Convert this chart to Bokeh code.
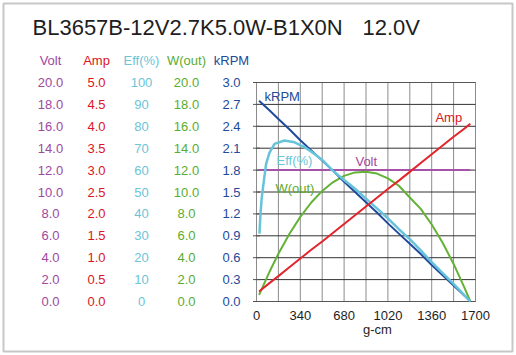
from bokeh.plotting import figure
from bokeh.models import Range1d, BoxAnnotation
from bokeh.core.properties import value
from bokeh.embed import file_html
from bokeh.resources import INLINE

# ---------------- data ----------------
title_model = "BL3657B-12V2.7K5.0W-B1X0N"
title_volt = "12.0V"
x_title = "g-cm"

torque = [20, 100, 170, 255, 340, 425, 510, 595, 680, 765, 850, 935, 1020,
          1105, 1190, 1275, 1360, 1445, 1530, 1615, 1660]
krpm = [2.75, 2.62, 2.50, 2.36, 2.21, 2.07, 1.93, 1.79, 1.64, 1.50, 1.36, 1.22, 1.07,
        0.93, 0.79, 0.65, 0.50, 0.36, 0.22, 0.08, 0.00]
amp = [0.23, 0.42, 0.58, 0.78, 0.98, 1.18, 1.37, 1.57, 1.77, 1.97, 2.17, 2.37, 2.57,
       2.76, 2.96, 3.16, 3.36, 3.56, 3.76, 3.95, 4.06]
wout = [0.6, 2.69, 4.36, 6.17, 7.73, 9.04, 10.10, 10.91, 11.47, 11.79, 11.85, 11.68, 11.24,
        10.57, 9.5, 8.46, 7.03, 5.36, 3.43, 1.24, 0.0]

volt_torque = [20, 1660]
volt = [12.0, 12.0]

eff_torque = [23, 31, 41, 57, 75, 101, 140, 217, 295, 373, 450, 515, 587, 680, 765,
              850, 935, 1020, 1105, 1190, 1275, 1360, 1445, 1530, 1615, 1660]
eff = [31, 40, 47.6, 55, 63, 68, 72, 73.5, 72.7, 70.5, 67.4, 64.4, 60, 55.5, 51.5,
       47, 42.5, 38, 33, 28.5, 23.3, 18, 13, 8, 2.8, 0]

x_ticks = [0, 340, 680, 1020, 1360, 1700]
x_grid = [0, 170, 340, 510, 680, 850, 1020, 1190, 1360, 1530, 1700]

volt_ticks = [0.0, 2.0, 4.0, 6.0, 8.0, 10.0, 12.0, 14.0, 16.0, 18.0, 20.0]
amp_ticks = [0.0, 0.5, 1.0, 1.5, 2.0, 2.5, 3.0, 3.5, 4.0, 4.5, 5.0]
eff_ticks = [0, 10, 20, 30, 40, 50, 60, 70, 80, 90, 100]
wout_ticks = [0.0, 2.0, 4.0, 6.0, 8.0, 10.0, 12.0, 14.0, 16.0, 18.0, 20.0]
krpm_ticks = [0.0, 0.3, 0.6, 0.9, 1.2, 1.5, 1.8, 2.1, 2.4, 2.7, 3.0]

headers = ["Volt", "Amp", "Eff(%)", "W(out)", "kRPM"]

# ---------------- layout / style ----------------
W, H = 516, 355
PL, PR, PT, PB = 256, 475, 82, 301        # plot box in page pixels
XMAX = 1700
FONT = value("Liberation Sans")

C_VOLT_T, C_VOLT = "#a0479f", "#a552a8"
C_AMP_T, C_AMP = "#d9161e", "#e2242b"
C_EFF_T, C_EFF = "#6cc4d7", "#67c3d9"
C_W_T, C_W = "#5aac2f", "#63b236"
C_K_T, C_K = "#234a99", "#1f4a9c"
C_TXT = "#1e1e1e"


def yrange(vmax):
    per = vmax / (PB - PT)
    return Range1d(-(H - PB) * per, vmax + PT * per)


xper = XMAX / (PR - PL)
p = figure(width=W, height=H,
           x_range=Range1d(-PL * xper, XMAX + (W - PR) * xper),
           y_range=yrange(20),
           output_backend="svg", toolbar_location=None,
           min_border=0, min_border_left=0, min_border_right=0,
           min_border_top=0, min_border_bottom=0,
           x_axis_location=None, y_axis_location=None)
p.extra_y_ranges = {"amp": yrange(5), "eff": yrange(100),
                    "wout": yrange(20), "krpm": yrange(3)}
p.outline_line_color = None
p.background_fill_color = "white"
p.border_fill_color = "white"
p.xgrid.visible = False
p.ygrid.visible = False

# plot grid (volt units on y)
p.segment(x0=x_grid, y0=0, x1=x_grid, y1=20, line_color="#8c8c8c", line_width=1)
p.segment(x0=0, y0=volt_ticks, x1=XMAX, y1=volt_ticks, line_color="#333333", line_width=1)
p.segment(x0=0, y0=[0, 20], x1=XMAX, y1=[0, 20], line_color="#555555", line_width=1)
# small outward tick marks on the left edge
p.scatter(x=[0] * len(volt_ticks), y=volt_ticks, marker="dash", size=7,
          line_color="#555555", line_width=1)

# ---------------- series ----------------
p.line(volt_torque, volt, line_color=C_VOLT, line_width=2)
p.line(torque, wout, line_color=C_W, line_width=2, y_range_name="wout")
p.line(torque, krpm, line_color=C_K, line_width=2, y_range_name="krpm")
p.line(eff_torque, eff, line_color=C_EFF, line_width=2.5, y_range_name="eff")
p.line(torque, amp, line_color=C_AMP, line_width=2, y_range_name="amp")


def txt(x, y, text, color, rn="default", size="13px", align="left",
        xo=0, yo=0):
    p.text(x=x, y=y, text=text, text_color=color, y_range_name=rn,
           text_font=FONT, text_font_size=size, text_align=align,
           text_baseline="middle", x_offset=xo, y_offset=yo)


# curve names inside plot
txt([62], [2.81], ["kRPM"], C_K_T, "krpm")
txt([155], [64.4], ["Eff(%)"], C_EFF_T, "eff")
txt([768], [12.8], ["Volt"], C_VOLT_T)
txt([147], [10.3], ["W(out)"], C_W_T, "wout")
txt([1389], [4.2], ["Amp"], C_AMP_T, "amp")

# ---------------- left value table ----------------
cols = [
    (50, volt_ticks, "{:.1f}", C_VOLT_T, "default"),
    (96, amp_ticks, "{:.1f}", C_AMP_T, "amp"),
    (141, eff_ticks, "{:d}", C_EFF_T, "eff"),
    (186, wout_ticks, "{:.1f}", C_W_T, "wout"),
    (231, krpm_ticks, "{:.1f}", C_K_T, "krpm"),
]
for (cx, ticks, fmt, color, rn), head in zip(cols, headers):
    txt([0] * len(ticks), ticks, [fmt.format(t) for t in ticks], color, rn,
        align="center", xo=cx - PL)
    txt([0], [20], [head], color, align="center", xo=cx - PL, yo=60 - PT)

# x tick labels and title
txt(x_ticks, [0] * len(x_ticks), [str(t) for t in x_ticks], C_TXT,
    align="center", yo=315 - PB)
txt([XMAX / 2], [0], [x_title], C_TXT, align="center",
    xo=377 - (PL + PR) / 2, yo=329 - PB)

# chart title
txt([0], [20], [title_model], C_TXT, size="22px", xo=32 - PL, yo=27 - PT)
txt([0], [20], [title_volt], C_TXT, size="22px", xo=362 - PL, yo=27 - PT)

# outer frame
p.add_layout(BoxAnnotation(left=3, right=512, bottom=H - 351, top=H - 3,
                           left_units="screen", right_units="screen",
                           bottom_units="screen", top_units="screen",
                           fill_alpha=0, line_color="#444444", line_width=2))

open("out.html", "w").write(file_html(p, INLINE))
